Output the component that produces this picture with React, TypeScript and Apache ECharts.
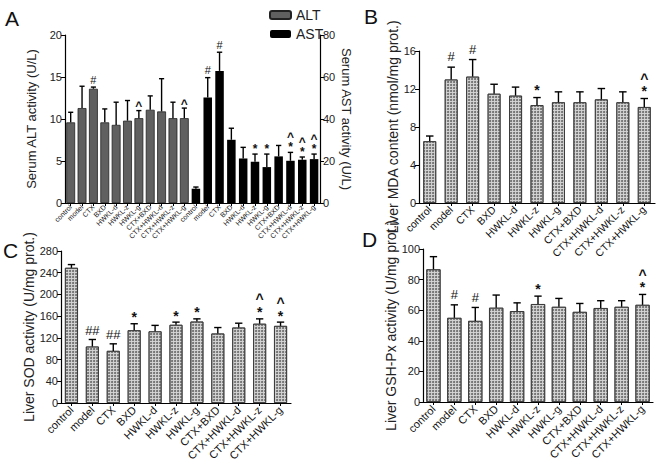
import React, { useEffect, useRef } from "react";
import * as echarts from "echarts";

const groups = ["control", "model", "CTX", "BXD", "HWKL-d", "HWKL-z", "HWKL-g", "CTX+BXD", "CTX+HWKL-d", "CTX+HWKL-z", "CTX+HWKL-g"];

// Panel A – serum ALT (left axis) and AST (right axis): mean and top of error bar
const altMean = [9.6, 11.3, 13.6, 9.6, 9.3, 9.8, 10.1, 11.1, 10.9, 10.1, 10.1];
const altErrTop = [10.8, 13.9, 13.8, 11.2, 12.0, 12.2, 11.0, 12.75, 14.8, 12.0, 11.3];
const altMarks = [[], [], ["#"], [], [], [], ["^"], [], [], [], ["^"]];
const astMean = [6.8, 50.2, 62.9, 30.1, 21.2, 19.6, 17.1, 22.2, 20.1, 20.6, 20.9];
const astErrTop = [7.6, 59.7, 71.8, 35.6, 26.5, 23.3, 23.3, 27.4, 24.1, 21.9, 23.3];
const astMarks = [[], ["#"], ["#"], [], [], ["*"], ["*"], [], ["*", "^"], ["*", "^"], ["*", "^"]];

// Panel B – liver MDA
const mdaMean = [6.5, 13.0, 13.3, 11.5, 11.3, 10.3, 10.6, 10.6, 10.9, 10.6, 10.1];
const mdaErrTop = [7.05, 14.3, 15.1, 12.5, 12.2, 11.1, 11.7, 11.7, 12.05, 11.7, 11.0];
const mdaMarks = [[], ["#"], ["#"], [], [], ["*"], [], [], [], [], ["*", "^"]];

// Panel C – liver SOD
const sodMean = [249, 104, 96, 134, 132, 144, 150, 128, 139, 146, 142];
const sodErrTop = [255, 117, 109, 146, 143, 149, 155, 139, 147, 155, 149];
const sodMarks = [[], ["##"], ["##"], ["*"], [], ["*"], ["*"], [], [], ["*", "^"], ["*", "^"]];

// Panel D – liver GSH-Px
const gshMean = [86.7, 55, 53, 61.6, 59.4, 64, 62.2, 58.9, 61.4, 62.2, 63.5];
const gshErrTop = [95, 63.5, 61.8, 69.9, 64.8, 69.2, 67.7, 64.4, 66.2, 66.2, 70.3];
const gshMarks = [[], ["#"], ["#"], [], [], ["*"], [], [], [], [], ["*", "^"]];

const FONT = "Liberation Sans, Arial, sans-serif";
const TXT = "#222";

const dotted = {
  color: "#d4d4d4",
  borderColor: "#333",
  borderWidth: 0.8,
  decal: {
    symbol: "circle",
    symbolSize: 1,
    color: "#6a6a6a",
    dashArrayX: [1.6, 1],
    dashArrayY: [1.6, 1],
    rotation: 0,
  },
};

function errSeries(axis: number, means: number[], tops: number[], marks: string[][], cfg: any) {
  return {
    type: "custom",
    xAxisIndex: axis,
    yAxisIndex: axis,
    z: 5,
    silent: true,
    data: means.map((m, i) => [i, m, tops[i]]),
    encode: { x: 0, y: 1 },
    renderItem: (params: any, api: any) => {
      const i = api.value(0);
      const base = api.coord([i, api.value(1)]);
      const top = api.coord([i, api.value(2)]);
      const bw = api.size([1, 0])[0];
      const cap = bw * cfg.cap;
      const children: any[] = [
        { type: "line", shape: { x1: base[0], y1: base[1], x2: top[0], y2: top[1] }, style: { stroke: "#000", lineWidth: 1.4 } },
        { type: "line", shape: { x1: top[0] - cap / 2, y1: top[1], x2: top[0] + cap / 2, y2: top[1] }, style: { stroke: "#000", lineWidth: 1.4 } },
      ];
      const ms = marks[params.dataIndex];
      if (ms.length) {
        const bottom = ms[0];
        const isSym = ms.some((m) => m === "*" || m === "^");
        const fs = isSym ? cfg.font + 1 : cfg.font;
        const shift = bottom === "^" ? 0.32 * fs : bottom === "*" ? 0.25 * fs : 0.05 * fs;
        const L = cfg.step;
        const y = top[1] - cfg.gap + shift + L / 2;
        children.push({
          type: "text",
          x: top[0],
          y,
          style: {
            text: ms.slice().reverse().join("\n"),
            fill: "#111",
            fontFamily: FONT,
            fontSize: fs,
            lineHeight: L,
            fontWeight: isSym ? "bold" : "normal",
            align: "center",
            verticalAlign: "bottom",
          },
        });
      }
      return { type: "group", children };
    },
  };
}

function xAx(grid: number, fontSize: number, margin: number) {
  return {
    type: "category",
    gridIndex: grid,
    data: groups,
    axisLine: { show: true, lineStyle: { color: "#000", width: 1.2 } },
    axisTick: { show: true, alignWithLabel: true, length: 3, lineStyle: { color: "#000" } },
    axisLabel: { interval: 0, rotate: 45, fontSize, color: "#111", fontFamily: FONT, margin },
  };
}

function yAx(grid: number, max: number, interval: number, name: string, opts: any = {}) {
  return {
    type: "value",
    gridIndex: grid,
    min: 0,
    max,
    interval,
    name,
    nameLocation: "middle",
    nameGap: opts.nameGap ?? 28,
    nameRotate: opts.nameRotate ?? 90,
    nameTextStyle: { fontSize: opts.nameSize ?? 13, color: TXT, fontFamily: FONT },
    position: opts.position ?? "left",
    splitLine: { show: false },
    axisLine: { show: true, lineStyle: { color: "#000", width: 1.2 } },
    axisTick: { show: true, length: 4, lineStyle: { color: "#000" } },
    axisLabel: { fontSize: 11, color: TXT, fontFamily: FONT, margin: 3 },
  };
}

export default function App() {
  const ref = useRef<HTMLDivElement>(null);
  useEffect(() => {
    if (!ref.current) return;
    const chart = echarts.init(ref.current, null, { renderer: "svg" });
    const option: any = {
      animation: false,
      backgroundColor: "#fff",
      textStyle: { fontFamily: FONT },
      legend: {
        data: ["ALT", "AST"],
        orient: "vertical",
        left: 264,
        top: 3,
        itemWidth: 21,
        itemHeight: 8,
        itemGap: 5,
        textStyle: { fontSize: 14, color: TXT, fontFamily: FONT },
      },
      grid: [
        { left: 65, top: 35, width: 125, height: 168 },
        { left: 190, top: 35, width: 130, height: 168 },
        { left: 419, top: 51, width: 236, height: 152 },
        { left: 61, top: 251, width: 230, height: 152 },
        { left: 423, top: 249, width: 230, height: 153 },
      ],
      xAxis: [xAx(0, 7, 3), xAx(1, 7, 3), xAx(2, 10.5, 5), xAx(3, 11, 5), xAx(4, 11, 5)],
      yAxis: [
        yAx(0, 20, 5, "Serum ALT activity (U/L)", { nameGap: 27, nameSize: 13 }),
        yAx(1, 80, 20, "Serum AST activity (U/L)", { position: "right", nameRotate: -90, nameGap: 20, nameSize: 13 }),
        yAx(2, 16, 4, "Liver MDA content (nmol/mg prot.)", { nameGap: 15, nameSize: 14 }),
        yAx(3, 280, 40, "Liver SOD activity (U/mg prot.)", { nameGap: 18, nameSize: 14 }),
        yAx(4, 100, 20, "Liver GSH-Px activity (U/mg prot.)", { nameGap: 24, nameSize: 14 }),
      ],
      graphic: [
        { type: "text", left: 5, top: 8, style: { text: "A", fontSize: 21, fill: "#111", fontFamily: FONT } },
        { type: "text", left: 364, top: 6, style: { text: "B", fontSize: 21, fill: "#111", fontFamily: FONT } },
        { type: "text", left: 3, top: 240, style: { text: "C", fontSize: 21, fill: "#111", fontFamily: FONT } },
        { type: "text", left: 362, top: 229, style: { text: "D", fontSize: 21, fill: "#111", fontFamily: FONT } },
      ],
      series: [
        { name: "ALT", type: "bar", xAxisIndex: 0, yAxisIndex: 0, data: altMean, barWidth: "78%", itemStyle: { color: "#606060", borderColor: "#222", borderWidth: 0.8 } },
        { name: "AST", type: "bar", xAxisIndex: 1, yAxisIndex: 1, data: astMean, barWidth: "72%", itemStyle: { color: "#000" } },
        { name: "MDA", type: "bar", xAxisIndex: 2, yAxisIndex: 2, data: mdaMean, barWidth: "60%", itemStyle: dotted },
        { name: "SOD", type: "bar", xAxisIndex: 3, yAxisIndex: 3, data: sodMean, barWidth: "62%", itemStyle: dotted },
        { name: "GSH", type: "bar", xAxisIndex: 4, yAxisIndex: 4, data: gshMean, barWidth: "68%", itemStyle: dotted },
        errSeries(0, altMean, altErrTop, altMarks, { cap: 0.45, gap: 8, step: 10, font: 11 }),
        errSeries(1, astMean, astErrTop, astMarks, { cap: 0.45, gap: 8, step: 10, font: 11 }),
        errSeries(2, mdaMean, mdaErrTop, mdaMarks, { cap: 0.35, gap: 11, step: 12, font: 13 }),
        errSeries(3, sodMean, sodErrTop, sodMarks, { cap: 0.35, gap: 10, step: 13, font: 13 }),
        errSeries(4, gshMean, gshErrTop, gshMarks, { cap: 0.35, gap: 11, step: 12, font: 13 }),
      ],
    };
    chart.setOption(option);
    return () => chart.dispose();
  }, []);
  return <div ref={ref} style={{ position: "absolute", left: 0, top: 0, width: 661, height: 466 }} />;
}
